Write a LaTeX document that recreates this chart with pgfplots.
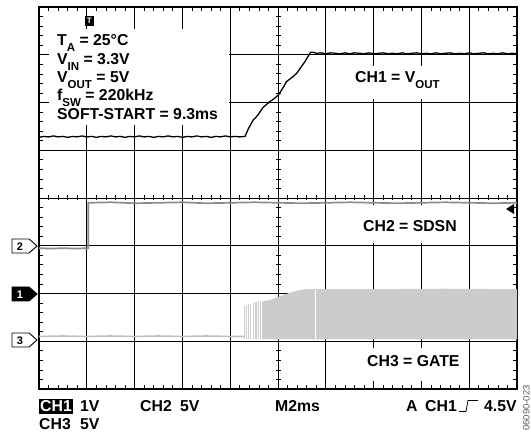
\documentclass[border=0pt]{standalone}
\usepackage{pgfplots}
\pgfplotsset{compat=1.18}
\usepackage{fontspec}
\setmainfont{Liberation Sans}

\definecolor{chtwo}{gray}{0.55}
\definecolor{chthree}{gray}{0.80}
\definecolor{chthreelow}{gray}{0.75}

\newcommand\sub[1]{\raisebox{-0.32em}{\fontsize{11.5}{11.5}\selectfont #1}}
\newcommand\scopefont{\fontsize{15.8}{19}\selectfont\bfseries}

\begin{document}
\begin{tikzpicture}
\useasboundingbox (0,0) rectangle (531pt,439pt);

% ticks on the centre cross
\begin{axis}[
    width=478pt, height=382pt, scale only axis,
    at={(39pt,50pt)}, anchor=south west,
    xmin=-5, xmax=5, ymin=-4, ymax=4,
    axis lines=middle,
    axis line style={-, black, line width=0.7pt},
    xtick={-5,...,5}, ytick={-4,...,4},
    xticklabels={}, yticklabels={},
    minor x tick num=4, minor y tick num=4,
    major tick length=0pt, minor tick length=5pt,
    tick align=center,
    minor tick style={black, line width=0.7pt},
]
\end{axis}

\begin{axis}[
    width=478pt, height=382pt, scale only axis,
    at={(39pt,50pt)}, anchor=south west,
    xmin=0, xmax=10, ymin=-4, ymax=4,
    xtick={0,...,10}, ytick={-4,...,4},
    xticklabels={}, yticklabels={},
    grid=major,
    major grid style={black, line width=0.7pt},
    minor x tick num=4, minor y tick num=4,
    major tick length=0pt, minor tick length=4pt,
    tick align=inside,
    minor tick style={black, line width=0.7pt},
    axis line style={black, line width=1.3pt},
    unbounded coords=jump,
]
% CH3 = GATE, low level before switching
\addplot[chthreelow, line width=1.6pt] coordinates {
 (0,-2.90)(0.5,-2.89)(1.0,-2.90)(1.5,-2.89)(2.0,-2.90)(2.5,-2.89)(3.0,-2.90)(3.5,-2.89)(4.0,-2.90)(4.30,-2.90)
};
% CH3 first sparse pulses
\addplot[chthree, line width=1.1pt] coordinates {
 (4.29,-2.96)(4.29,-2.26)(4.29,nan)
 (4.34,-2.96)(4.34,-2.24)(4.34,nan)
 (4.38,-2.96)(4.38,-2.23)(4.38,nan)
 (4.43,-2.96)(4.43,-2.21)(4.43,nan)
 (4.48,-2.96)(4.48,-2.19)(4.48,nan)
 (4.52,-2.96)(4.52,-2.18)(4.52,nan)
 (4.55,-2.96)(4.55,-2.17)(4.55,nan)
 (4.59,-2.96)(4.59,-2.16)(4.59,nan)
 (4.64,-2.96)(4.64,-2.16)
};
% CH3 dense switching envelope
\addplot[fill=chthree, draw=none] coordinates {
 (4.67,-2.96)(4.67,-2.17)(4.85,-2.13)(5.00,-2.07)(5.12,-2.03)(5.23,-1.99)(5.40,-1.94)(5.56,-1.91)(7.0,-1.91)(8.5,-1.90)(10,-1.91)(10,-2.96)
} -- cycle;
\addplot[white, line width=0.8pt] coordinates {(5.79,-2.96)(5.79,-1.93)};

% CH2 = SDSN
\addplot[chtwo, line width=1.7pt] coordinates {
 (0,-1.05)(0.25,-1.06)(0.5,-1.05)(0.75,-1.06)(1.03,-1.05)(1.03,-0.10)
 (1.5,-0.09)(2,-0.11)(2.5,-0.10)(3,-0.09)(3.5,-0.11)(4,-0.10)(4.5,-0.09)(5,-0.10)
 (5.5,-0.11)(6,-0.10)(6.5,-0.09)(7,-0.10)(7.5,-0.11)(8,-0.10)(8.5,-0.09)(9,-0.10)(9.5,-0.11)(10,-0.10)
};

% CH1 = VOUT
\addplot[black, line width=1.3pt] coordinates {
 (0,1.27)(0.1,1.29)(0.2,1.28)(0.3,1.30)(0.4,1.28)(0.5,1.29)(0.6,1.27)(0.7,1.29)(0.8,1.28)(0.9,1.30)
 (1.0,1.28)(1.1,1.29)(1.2,1.27)(1.3,1.29)(1.4,1.28)(1.5,1.30)(1.6,1.28)(1.7,1.29)(1.8,1.27)(1.9,1.29)
 (2.0,1.28)(2.1,1.30)(2.2,1.28)(2.3,1.29)(2.4,1.27)(2.5,1.29)(2.6,1.28)(2.7,1.30)(2.8,1.28)(2.9,1.29)
 (3.0,1.27)(3.1,1.29)(3.2,1.28)(3.3,1.30)(3.4,1.28)(3.5,1.29)(3.6,1.27)(3.7,1.29)(3.8,1.28)(3.9,1.30)
 (4.0,1.28)(4.1,1.29)(4.2,1.28)(4.31,1.29)
 (4.38,1.45)(4.48,1.63)(4.53,1.68)(4.58,1.74)(4.69,1.90)(4.76,1.96)(4.83,2.02)(4.92,2.08)(5.01,2.16)
 (5.10,2.30)(5.18,2.44)(5.30,2.53)(5.39,2.61)(5.48,2.74)(5.56,2.85)(5.62,2.95)(5.68,3.05)
 (5.75,3.05)(5.8,3.03)(5.9,3.04)(6.0,3.02)(6.1,3.04)(6.2,3.03)(6.3,3.02)(6.4,3.04)(6.5,3.02)
 (6.6,3.04)(6.7,3.03)(6.8,3.02)(6.9,3.04)(7.0,3.02)(7.1,3.03)(7.2,3.04)(7.3,3.02)(7.4,3.03)(7.5,3.02)
 (7.6,3.04)(7.7,3.02)(7.8,3.03)(7.9,3.04)(8.0,3.02)(8.1,3.03)(8.2,3.02)(8.3,3.04)(8.4,3.02)(8.5,3.03)
 (8.6,3.04)(8.7,3.02)(8.8,3.03)(8.9,3.02)(9.0,3.04)(9.1,3.02)(9.2,3.03)(9.3,3.04)(9.4,3.02)(9.5,3.03)
 (9.6,3.02)(9.7,3.04)(9.8,3.02)(9.9,3.03)(10,3.02)
};
\end{axis}

% annotations, in pixel coordinates measured from the top left corner
\begin{scope}[yshift=439pt, x=1pt, y=-1pt]
 % parameter box
 \fill[white] (49,29) rectangle (229,125);
 \node[anchor=base west, inner sep=0pt, font=\scopefont] at (57,46) {T\sub{A} = 25°C};
 \node[anchor=base west, inner sep=0pt, font=\scopefont] at (57,65) {V\sub{IN} = 3.3V};
 \node[anchor=base west, inner sep=0pt, font=\scopefont] at (57,83) {V\sub{OUT} = 5V};
 \node[anchor=base west, inner sep=0pt, font=\scopefont] at (57,101) {f\sub{SW} = 220kHz};
 \node[anchor=base west, inner sep=0pt, font=\scopefont] at (57,120) {SOFT-START = 9.3ms};
 % trigger position marker
 \fill[black] (84.5,16) rectangle (94,26);
 \node[white, inner sep=0pt, font=\fontsize{8}{8}\selectfont\bfseries] at (89.3,21) {T};
 % channel labels
 \fill[white] (352,66) rectangle (446,99);
 \node[anchor=base west, inner sep=0pt, font=\scopefont] at (355,83) {CH1 = V\sub{OUT}};
 \fill[white] (360,205) rectangle (462,243);
 \node[anchor=base west, inner sep=0pt, font=\scopefont] at (363,232) {CH2 = SDSN};
 \fill[white] (364,348) rectangle (462,381);
 \node[anchor=base west, inner sep=0pt, font=\scopefont] at (367,367) {CH3 = GATE};
 % ground markers
 \draw[black, fill=white, line width=0.9pt] (12,239) -- (29,239) -- (37,246) -- (29,253) -- (12,253) -- cycle;
 \node[inner sep=0pt, font=\fontsize{11}{11}\selectfont\bfseries] at (20,246.5) {2};
 \draw[black, fill=black, line width=0.9pt] (12,287) -- (29,287) -- (37,294) -- (29,301) -- (12,301) -- cycle;
 \node[white, inner sep=0pt, font=\fontsize{11}{11}\selectfont\bfseries] at (20,294.5) {1};
 \draw[black, fill=white, line width=0.9pt] (12,333) -- (29,333) -- (37,340) -- (29,347) -- (12,347) -- cycle;
 \node[inner sep=0pt, font=\fontsize{11}{11}\selectfont\bfseries] at (20,340.5) {3};
 % trigger level arrow
 \fill[black] (506,209) -- (514,204) -- (514,214) -- cycle;
 % status line
 \node[anchor=base west, fill=black, text=white, inner xsep=1pt, inner ysep=1.5pt, font=\scopefont] at (39,412) {CH1};
 \node[anchor=base west, inner sep=0pt, font=\scopefont] at (80,412) {1V};
 \node[anchor=base west, inner sep=0pt, font=\scopefont] at (140,412) {CH2};
 \node[anchor=base west, inner sep=0pt, font=\scopefont] at (180,412) {5V};
 \node[anchor=base west, inner sep=0pt, font=\scopefont] at (275,412) {M2ms};
 \node[anchor=base west, inner sep=0pt, font=\scopefont] at (406,412) {A};
 \node[anchor=base west, inner sep=0pt, font=\scopefont] at (425,412) {CH1};
 \draw[black, line width=0.8pt] (459,411.5) -- (466,411.5) -- (468,400.5) -- (478,400.5);
 \node[anchor=base west, inner sep=0pt, font=\scopefont] at (484,412) {4.5V};
 \node[anchor=base west, inner sep=0pt, font=\scopefont] at (39,430) {CH3};
 \node[anchor=base west, inner sep=0pt, font=\scopefont] at (80,430) {5V};
 % figure number
 \node[rotate=90, anchor=south east, inner sep=0pt, text=black!65, font=\fontsize{9.5}{9.5}\selectfont] at (530,385) {06090-023};
\end{scope}
\end{tikzpicture}
\end{document}
